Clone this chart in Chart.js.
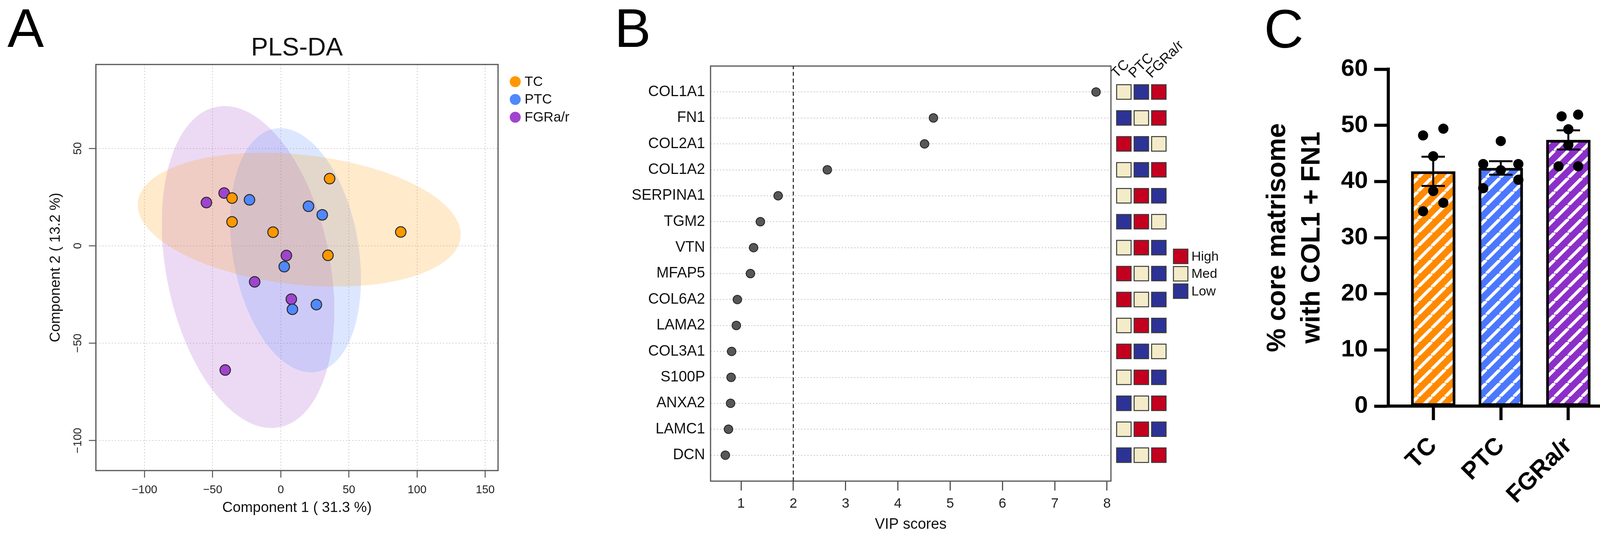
<!DOCTYPE html>
<html>
<head>
<meta charset="utf-8">
<title>PLS-DA, VIP scores and core matrisome</title>
<script src="https://cdn.jsdelivr.net/npm/chart.js@4.4.1/dist/chart.umd.min.js"></script>
<style>
  html, body { margin: 0; padding: 0; background: #fff; }
  body { width: 4142px; height: 1374px; position: relative; overflow: hidden; font-family: 'Liberation Sans', Arial, sans-serif; }
  canvas { position: absolute; top: 0; }
  .panel-letter { position: absolute; font-size: 140px; line-height: 1; color: #000; }
</style>
</head>
<body>
<div class="panel-letter" style="left:19px; top:2px">A</div>
<div class="panel-letter" style="left:1573px; top:2px">B</div>
<div class="panel-letter" style="left:3236px; top:4px">C</div>
<canvas id="plsda" width="1500" height="1374" style="left:0px"></canvas>
<canvas id="vip" width="1400" height="1374" style="left:1500px"></canvas>
<canvas id="heat" width="400" height="1374" style="left:2845px"></canvas>
<canvas id="bars" width="1002" height="1374" style="left:3140px"></canvas>
<script>
// ---- data: panel A (PLS-DA scores) ----
const groups = ['TC', 'PTC', 'FGRa/r'];
const tcX = [35.8, -35.8, -35.8, -5.7, 88.0, 34.6];
const tcY = [34.5, 24.5, 12.3, 7.0, 7.1, -4.9];
const ptcX = [-23.0, 20.3, 30.4, 2.5, 8.5, 26.1];
const ptcY = [23.6, 20.3, 15.9, -10.7, -32.6, -30.2];
const fgrX = [-54.6, -41.6, 4.1, -19.2, 7.7, -40.8];
const fgrY = [22.2, 27.1, -5.0, -18.5, -27.4, -63.8];
const xTicksA = [-100, -50, 0, 50, 100, 150];
const yTicksA = [-100, -50, 0, 50];

// ---- data: panel B (VIP scores + group levels) ----
const genes = ['COL1A1', 'FN1', 'COL2A1', 'COL1A2', 'SERPINA1', 'TGM2', 'VTN', 'MFAP5',
               'COL6A2', 'LAMA2', 'COL3A1', 'S100P', 'ANXA2', 'LAMC1', 'DCN'];
const vipScores = [7.79, 4.68, 4.51, 2.65, 1.71, 1.37, 1.24, 1.18, 0.93, 0.91, 0.82, 0.81, 0.80, 0.76, 0.70];
const levelTC  = ['Med', 'Low', 'High', 'Med', 'Med', 'Low', 'Med', 'High', 'High', 'Med', 'High', 'Med', 'Low', 'Med', 'Low'];
const levelPTC = ['Low', 'Med', 'Low', 'Low', 'High', 'High', 'High', 'Med', 'Med', 'High', 'Low', 'High', 'Med', 'High', 'Med'];
const levelFGR = ['High', 'High', 'Med', 'High', 'Low', 'Med', 'Low', 'Low', 'Low', 'Low', 'Med', 'Low', 'High', 'Low', 'High'];
const levelNames = ['High', 'Med', 'Low'];
const xTicksB = [1, 2, 3, 4, 5, 6, 7, 8];
const vipCutoff = 2;

// ---- data: panel C (% core matrisome) ----
const barMeans = [41.8, 42.4, 47.4];
const barSem = [2.6, 1.2, 1.7];
const tcPct = [48.2, 49.4, 44.5, 38.3, 36.2, 34.7];
const ptcPct = [47.2, 43.1, 43.1, 42.0, 40.3, 38.8];
const fgrPct = [51.6, 51.9, 49.3, 46.5, 42.7, 42.7];
const tcJitter = [-0.15, 0.15, 0, 0, 0.15, -0.15];
const ptcJitter = [0, -0.26, 0.26, 0, 0.26, -0.26];
const fgrJitter = [-0.1, 0.145, 0, 0, -0.145, 0.145];
const yTicksC = [0, 10, 20, 30, 40, 50, 60];

Chart.defaults.font.family = "'Liberation Sans', Arial, sans-serif";
Chart.defaults.color = '#111';
Chart.defaults.animation = false;
Chart.defaults.events = [];
Chart.defaults.plugins.legend.display = false;
Chart.defaults.plugins.tooltip.enabled = false;

const FONT = "'Liberation Sans', Arial, sans-serif";
const minus = v => v < 0 ? '\u2212' + Math.abs(v) : String(v);
const fixTicks = list => scale => { scale.ticks = list.map(v => ({ value: v })); };

// box round the plot area (R style)
const frameBox = {
  id: 'frameBox',
  beforeDatasetsDraw(chart, args, opts) {
    const { ctx, chartArea: a } = chart;
    ctx.save();
    ctx.strokeStyle = opts.color || '#555';
    ctx.lineWidth = opts.width || 3;
    ctx.strokeRect(a.left, a.top, a.right - a.left, a.bottom - a.top);
    ctx.restore();
  }
};

// ========== A: PLS-DA ==========
const ptColors = ['#ff9800', '#5088ff', '#a044cf'];
const ellColors = ['rgba(255,152,0,0.2)', 'rgba(80,136,255,0.2)', 'rgba(160,68,207,0.2)'];
const scoresX = [tcX, ptcX, fgrX];
const scoresY = [tcY, ptcY, fgrY];

// 95% confidence ellipse of each group, worked out from its own scores
function confEllipse(xs, ys) {
  const n = xs.length;
  const mx = xs.reduce((s, v) => s + v, 0) / n;
  const my = ys.reduce((s, v) => s + v, 0) / n;
  let sxx = 0, syy = 0, sxy = 0;
  xs.forEach((x, i) => {
    sxx += (x - mx) ** 2; syy += (ys[i] - my) ** 2; sxy += (x - mx) * (ys[i] - my);
  });
  sxx /= n - 1; syy /= n - 1; sxy /= n - 1;
  const tr = sxx + syy, det = sxx * syy - sxy * sxy;
  const d = Math.sqrt(tr * tr / 4 - det);
  const l1 = tr / 2 + d, l2 = tr / 2 - d;
  const th = 0.5 * Math.atan2(2 * sxy, sxx - syy);
  const c = Math.sqrt(5.991);
  const out = [];
  for (let k = 0; k <= 120; k++) {
    const t = 2 * Math.PI * k / 120;
    const u = c * Math.sqrt(l1) * Math.cos(t), w = c * Math.sqrt(l2) * Math.sin(t);
    out.push({ x: mx + u * Math.cos(th) - w * Math.sin(th), y: my + u * Math.sin(th) + w * Math.cos(th) });
  }
  return out;
}

const legendA = {
  id: 'legendA',
  afterDraw(chart) {
    const { ctx, chartArea: a } = chart;
    ctx.save();
    ctx.font = '35px ' + FONT;
    ctx.textBaseline = 'middle';
    groups.forEach((g, i) => {
      const cx = a.right + 44, cy = a.top + 44 + i * 45.5;
      ctx.fillStyle = ptColors[i];
      ctx.beginPath(); ctx.arc(cx, cy, 14, 0, Math.PI * 2); ctx.fill();
      ctx.fillStyle = '#111';
      ctx.fillText(g, cx + 24, cy + 1);
    });
    ctx.restore();
  }
};

const ellipseSets = groups.map((g, i) => ({
  type: 'line',
  label: g + ' ellipse',
  data: confEllipse(scoresX[i], scoresY[i]),
  fill: 'shape',
  backgroundColor: ellColors[i],
  borderColor: 'rgba(0,0,0,0)',
  borderWidth: 0,
  pointRadius: 0,
  tension: 0,
  order: 2
}));
const scoreSets = groups.map((g, i) => ({
  type: 'scatter',
  label: g,
  data: scoresX[i].map((x, j) => ({ x: x, y: scoresY[i][j] })),
  pointRadius: 13.5,
  pointBackgroundColor: ptColors[i],
  pointBorderColor: '#2b2b2b',
  pointBorderWidth: 2.5,
  order: 1
}));

new Chart(document.getElementById('plsda'), {
  type: 'scatter',
  data: { datasets: ellipseSets.concat(scoreSets) },
  options: {
    responsive: false,
    devicePixelRatio: 1,
    layout: { autoPadding: false, padding: { left: 0, right: 225, top: 0, bottom: 0 } },
    plugins: {
      title: {
        display: true, text: 'PLS-DA', fullSize: false, color: '#111',
        font: { size: 65, weight: 'normal' }, padding: { top: 85, bottom: 2 }
      },
      frameBox: { color: '#555', width: 3 }
    },
    scales: {
      x: {
        type: 'linear', min: -135.7, max: 159.4,
        afterBuildTicks: fixTicks(xTicksA),
        afterFit: s => { s.height = 170; },
        grid: { color: '#cfcfcf', lineWidth: 2, tickColor: '#555', tickLength: 18, tickWidth: 2.5 },
        border: { display: false, dash: [3, 5] },
        ticks: { font: { size: 29 }, color: '#222', padding: 15, maxRotation: 0, autoSkip: false, callback: minus },
        title: { display: true, text: 'Component 1 ( 31.3 %)', color: '#111', font: { size: 37 }, padding: { top: 0, bottom: 52 } }
      },
      y: {
        type: 'linear', min: -115.4, max: 93.1,
        afterBuildTicks: fixTicks(yTicksA),
        afterFit: s => { s.width = 245.5; },
        grid: { color: '#cfcfcf', lineWidth: 2, tickColor: '#555', tickLength: 18, tickWidth: 2.5 },
        border: { display: false, dash: [3, 5] },
        ticks: { font: { size: 29 }, color: '#222', padding: -5, minRotation: 90, maxRotation: 90, crossAlign: 'center', autoSkip: false, callback: minus },
        title: { display: true, text: 'Component 2 ( 13.2 %)', color: '#111', font: { size: 37 }, padding: { top: 121, bottom: 0 } }
      }
    }
  },
  plugins: [frameBox, legendA]
});

// ========== B: VIP scores ==========
new Chart(document.getElementById('vip'), {
  type: 'scatter',
  data: {
    datasets: [
      {
        type: 'line',
        label: 'VIP cut-off',
        data: [{ x: vipCutoff, y: 0 }, { x: vipCutoff, y: genes.length + 1 }],
        borderColor: '#111', borderWidth: 2.5, borderDash: [10, 7], pointRadius: 0, order: 2
      },
      {
        type: 'scatter',
        label: 'VIP',
        data: vipScores.map((v, i) => ({ x: v, y: genes.length - i })),
        pointRadius: 11, pointBackgroundColor: '#575757', pointBorderColor: '#222', pointBorderWidth: 2,
        order: 1
      }
    ]
  },
  options: {
    responsive: false,
    devicePixelRatio: 1,
    layout: { autoPadding: false, padding: { left: 0, right: 56, top: 169, bottom: 0 } },
    plugins: { frameBox: { color: '#555', width: 3 } },
    scales: {
      x: {
        type: 'linear', min: 0.417, max: 8.075,
        afterBuildTicks: fixTicks(xTicksB),
        afterFit: s => { s.height = 143; },
        grid: { drawOnChartArea: false, tickLength: 24, tickWidth: 2.5, tickColor: '#333' },
        border: { display: false },
        ticks: { font: { size: 35 }, color: '#222', padding: 13, maxRotation: 0, autoSkip: false },
        title: { display: true, text: 'VIP scores', color: '#111', font: { size: 38 }, padding: { top: 0, bottom: 9 } }
      },
      y: {
        type: 'linear', min: 0, max: genes.length + 1,
        afterBuildTicks: s => { s.ticks = genes.map((g, i) => ({ value: genes.length - i })); },
        afterFit: s => { s.width = 319; },
        grid: { color: '#c4c4c4', lineWidth: 2, drawTicks: false },
        border: { display: false, dash: [3, 5] },
        ticks: { font: { size: 38 }, color: '#111', padding: 14, autoSkip: false, callback: v => genes[genes.length - v] }
      }
    }
  },
  plugins: [frameBox]
});

// ---- B: level squares next to the dot plot ----
const levelColor = { High: '#c4001f', Med: '#f4ecc8', Low: '#2d3296' };
const levelCols = [levelTC, levelPTC, levelFGR];

const heatLabels = {
  id: 'heatLabels',
  afterDraw(chart) {
    const { ctx, chartArea: a } = chart;
    const xs = chart.scales.x;
    ctx.save();
    ctx.fillStyle = '#111';
    ctx.font = '36px ' + FONT;
    ctx.textAlign = 'left';
    ctx.textBaseline = 'alphabetic';
    groups.forEach((g, i) => {
      ctx.save();
      ctx.translate(xs.getPixelForValue(i) - 18.5, a.top + 32);
      ctx.rotate(-Math.PI / 4);
      ctx.fillText(g, 0, 0);
      ctx.restore();
    });
    // High / Med / Low key
    ctx.font = '34px ' + FONT;
    ctx.textBaseline = 'middle';
    levelNames.forEach((name, i) => {
      const x0 = a.right + 15, y0 = 637.5 + i * 44.5;
      ctx.fillStyle = levelColor[name];
      ctx.fillRect(x0, y0, 37, 37);
      ctx.strokeStyle = '#3a3a3a'; ctx.lineWidth = 2.5;
      ctx.strokeRect(x0, y0, 37, 37);
      ctx.fillStyle = '#111';
      ctx.fillText(name, x0 + 46, y0 + 20);
    });
    ctx.restore();
  }
};

new Chart(document.getElementById('heat'), {
  type: 'scatter',
  data: {
    datasets: levelCols.map((col, c) => ({
      label: groups[c],
      data: col.map((lv, i) => ({ x: c, y: genes.length - i })),
      pointStyle: 'rect',
      pointRadius: 26.2,
      pointBackgroundColor: col.map(lv => levelColor[lv]),
      pointBorderColor: '#3a3a3a',
      pointBorderWidth: 2.5,
      clip: false
    }))
  },
  options: {
    responsive: false,
    devicePixelRatio: 1,
    layout: { autoPadding: false, padding: { left: 9.7, right: 256, top: 169, bottom: 143 } },
    scales: {
      x: { type: 'linear', display: false, min: -0.5, max: 2.5 },
      y: { type: 'linear', display: false, min: 0, max: genes.length + 1 }
    }
  },
  plugins: [heatLabels]
});

// ========== C: bars with SEM ==========
function stripes(color) {
  const s = 35;
  const c = document.createElement('canvas');
  c.width = s; c.height = s;
  const g = c.getContext('2d');
  g.fillStyle = color; g.fillRect(0, 0, s, s);
  g.strokeStyle = '#fff'; g.lineWidth = 8;
  for (let k = -1; k <= 1; k++) {
    g.beginPath(); g.moveTo(k * s, s); g.lineTo(k * s + s, 0); g.stroke();
  }
  return document.getElementById('bars').getContext('2d').createPattern(c, 'repeat');
}
const barColors = ['#ff8a00', '#4b78ff', '#8c2fc9'];
const pctPoints = [tcPct, ptcPct, fgrPct];
const pctJitter = [tcJitter, ptcJitter, fgrJitter];

const semBars = {
  id: 'semBars',
  afterDatasetsDraw(chart) {
    const { ctx } = chart;
    const xs = chart.scales.x, ys = chart.scales.y;
    ctx.save();
    ctx.strokeStyle = '#000';
    ctx.lineWidth = 5;
    barMeans.forEach((m, i) => {
      const x = xs.getPixelForValue(i);
      const top = ys.getPixelForValue(m + barSem[i]);
      const bot = ys.getPixelForValue(m - barSem[i]);
      ctx.beginPath();
      ctx.moveTo(x, top); ctx.lineTo(x, bot);
      ctx.moveTo(x - 30, top); ctx.lineTo(x + 30, top);
      ctx.moveTo(x - 30, bot); ctx.lineTo(x + 30, bot);
      ctx.stroke();
    });
    ctx.restore();
  }
};

new Chart(document.getElementById('bars'), {
  type: 'bar',
  data: {
    datasets: [
      {
        type: 'bar',
        label: 'mean',
        data: barMeans.map((m, i) => ({ x: i, y: m })),
        backgroundColor: barColors.map(stripes),
        borderColor: '#000',
        borderWidth: 7,
        borderSkipped: false,
        barThickness: 113,
        order: 2
      }
    ].concat(groups.map((g, i) => ({
      type: 'scatter',
      label: g,
      data: pctPoints[i].map((v, j) => ({ x: i + pctJitter[i][j], y: v })),
      pointRadius: 13,
      pointBackgroundColor: '#000',
      pointBorderWidth: 0,
      order: 1
    })))
  },
  options: {
    responsive: false,
    devicePixelRatio: 1,
    layout: { autoPadding: false, padding: { left: 0, right: 12, top: 177, bottom: 0 } },
    scales: {
      x: {
        type: 'linear', min: -0.665, max: 2.665, offset: false,
        afterBuildTicks: fixTicks([0, 1, 2]),
        afterFit: s => { s.height = 335; },
        grid: { drawOnChartArea: false, offset: false, tickLength: 36, tickWidth: 8, tickColor: '#000' },
        border: { color: '#000', width: 8 },
        ticks: { font: { size: 62, weight: 'bold' }, color: '#000', padding: 30, minRotation: 45, maxRotation: 45, autoSkip: false, callback: v => groups[v] }
      },
      y: {
        type: 'linear', min: 0, max: 60,
        afterBuildTicks: fixTicks(yTicksC),
        afterFit: s => { s.width = 414; },
        grid: { drawOnChartArea: false, tickLength: 36, tickWidth: 8, tickColor: '#000' },
        border: { color: '#000', width: 8 },
        ticks: { font: { size: 62, weight: 'bold' }, color: '#000', padding: 16, autoSkip: false },
        title: {
          display: true, text: ['% core matrisome', 'with COL1 + FN1'], color: '#000',
          font: { size: 68, weight: 'bold', lineHeight: 1.3 }, padding: { top: 86.8, bottom: 0 }
        }
      }
    }
  },
  plugins: [semBars]
});
</script>
</body>
</html>
